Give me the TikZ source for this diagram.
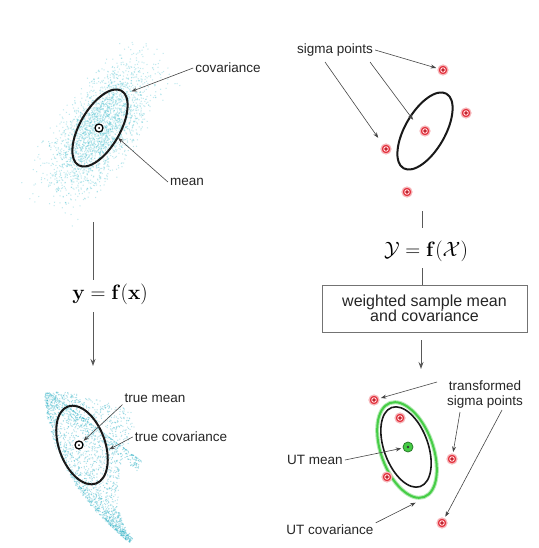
\documentclass[tikz,border=0pt]{standalone}
\usepackage[no-math]{fontspec}
\setmainfont{Liberation Sans}
\usetikzlibrary{arrows.meta,calc}
\definecolor{cloud}{RGB}{80,195,210}
\definecolor{cloudb}{RGB}{50,180,200}
\definecolor{sigred}{RGB}{228,50,62}
\definecolor{utgreen}{RGB}{70,205,70}
\definecolor{conngray}{RGB}{70,70,70}
\begin{document}
\begin{tikzpicture}[x=1pt,y=-1pt,
  lbl/.style={font=\fontsize{13.5}{15}\selectfont, text=black!85, inner sep=2pt},
  conn/.style={draw=conngray, line width=0.6pt, -{Stealth[length=5.5pt,width=4pt]}, shorten >=1.5pt},
  flow/.style={draw=black!65, line width=1pt},
  flowarr/.style={flow, -{Stealth[length=7pt,width=5pt]}},
  ell/.style={draw=black!90, line width=2pt},
  meanmk/.style={circle, draw=black, line width=1.3pt, fill=white, minimum size=8pt, inner sep=0pt,
    path picture={\fill[black] (path picture bounding box.center) circle (1pt);}},
  utm/.style={circle, fill=utgreen, draw=utgreen!60!black, line width=0.8pt, minimum size=10pt, inner sep=0pt,
    path picture={\fill[black!80] (path picture bounding box.center) circle (1.3pt);}},
  sig/.style={circle, fill=sigred, draw=sigred!35, line width=1.2pt, minimum size=10pt, inner sep=0pt,
    path picture={\draw[white, line width=0.7pt] (path picture bounding box.center) circle (2.3pt);
      \fill[sigred!60!black] (path picture bounding box.center) circle (0.8pt);}},
  wbox/.style={draw=black!55, line width=0.8pt, minimum width=205pt, minimum height=47pt, align=center,
    font=\fontsize{16}{15.5}\selectfont, text=black!85}
]
\fill[white] (0,0) rectangle (538,548);
\path[use as bounding box] (0,0) rectangle (538,548);

% ---------- top-left Gaussian cloud ----------
\pgfmathsetseed{7}
\begin{scope}[shift={(100,128)}, rotate=57]
\foreach \i in {1,...,2600}{
  \pgfmathsetmacro\u{36*(rand+rand+rand)}
  \pgfmathsetmacro\v{16*(rand+rand+rand)}
  \fill[cloud, opacity=0.35] (\u,\v) circle (0.75pt);
}
\end{scope}

% ---------- bottom-left transformed cloud ----------
\foreach \i in {1,...,2000}{
  \pgfmathsetmacro\t{rnd}
  \pgfmathsetmacro\s{rnd^1.8}
  \pgfmathsetmacro\px{(1-\t)^2*45+2*(1-\t)*\t*52+\t^2*130}
  \pgfmathsetmacro\py{(1-\t)^2*393+2*(1-\t)*\t*480+\t^2*542}
  \pgfmathsetmacro\dx{0.14*(1-\t)+1.56*\t}
  \pgfmathsetmacro\dy{1.74*(1-\t)+1.24*\t}
  \pgfmathsetmacro\len{veclen(\dx,\dy)}
  \pgfmathsetmacro\w{20*(1-\t)+5*\t+450*\t*(1-\t)^2}
  \pgfmathsetmacro\j{1.2*rand}
  \fill[cloudb, opacity=0.4] ({\px+(\s*\w+\j)*\dy/\len},{\py-(\s*\w+\j)*\dx/\len}) circle (0.65pt);
}
% upper-right edge band of the transformed cloud
\foreach \i in {1,...,350}{
  \pgfmathsetmacro\t{rnd}
  \pgfmathsetmacro\s{rnd^2}
  \fill[cloudb, opacity=0.45] ({48+95*\t-4*\s},{392+70*\t+10*\s}) circle (0.65pt);
}

% ---------- top-left: prior ----------
\draw[ell, rotate around={60:(100,128)}] (100,128) ellipse [x radius=43pt, y radius=20pt];
\node[meanmk] (m1) at (99,128) {};
\node[lbl] (tcov) at (228,68) {covariance};
\coordinate (tcovE) at (130,92);
\draw[conn] (tcov.west) -- (tcovE);
\node[lbl] (tmean) at (187,182) {mean};
\coordinate (tmeanE) at (117,137);
\draw[conn] (tmean.west) -- (tmeanE);

% ---------- left flow ----------
\coordinate (la) at (93,222);
\coordinate (lb) at (93,280);
\node (fx) at (110,294) {\fontsize{20}{24}\selectfont$\mathbf{y}=\mathbf{f}(\mathbf{x})$};
\coordinate (lc) at (93,312);
\coordinate (ld) at (93,366);
\draw[flow] (la) -- (lb);
\draw[flowarr] (lc) -- (ld);

% ---------- top-right: sigma points ----------
\draw[ell, rotate around={60:(425,131)}] (425,131) ellipse [x radius=43pt, y radius=20pt];
\node[sig] (s1) at (443,70) {};
\node[sig] (s2) at (466,113) {};
\node[sig] (s3) at (425,131) {};
\node[sig] (s4) at (386,149) {};
\node[sig] (s5) at (407,192) {};
\node[lbl] (sigtxt) at (335,50) {sigma points};
\draw[conn] (sigtxt.east) -- (s1);
\coordinate (a2) at (325,62);
\draw[conn, shorten >=8pt] (a2) -- (s4);
\coordinate (a3) at (370,62);
\coordinate (a3e) at (414,121);
\draw[conn] (a3) -- (a3e);

% ---------- right flow ----------
\coordinate (ra) at (422,211);
\coordinate (rb) at (422,228);
\draw[flow] (ra) -- (rb);
\node (Yf) at (426,251) {\fontsize{21}{24}\selectfont$\mathcal{Y}=\mathbf{f}(\mathcal{X})$};
\coordinate (rc) at (422,268);
\node[wbox] (wb) at (424.5,308.5) {weighted sample mean\\and covariance};
\draw[flow] (rc) -- (rc |- wb.north);
\coordinate (rd0) at (421,340);
\coordinate (rd) at (421,369);
\draw[flowarr] (rd0) -- (rd);

% ---------- bottom-left: true transformed ----------
\draw[ell, rotate around={-70:(82,445)}] (82,445) ellipse [x radius=41pt, y radius=23pt];
\node[meanmk] (m2) at (79,445) {};
\node[lbl] (ttm) at (155,398) {true mean};
\draw[conn] (ttm.south west) -- (m2);
\node[lbl] (ttc) at (181,437) {true covariance};
\coordinate (ttcE) at (108,450);
\draw[conn] (ttc.west) -- (ttcE);

% ---------- bottom-right: UT ----------
\draw[draw=utgreen!40, line width=4pt, rotate around={-70:(407,450)}] (407,450) ellipse [x radius=50pt, y radius=26pt];
\draw[draw=utgreen, line width=2pt, rotate around={-70:(407,450)}] (407,450) ellipse [x radius=50pt, y radius=26pt];
\draw[ell, line width=1.6pt, rotate around={-70:(406,447)}] (406,447) ellipse [x radius=42pt, y radius=22pt];
\node[utm] (um) at (408,447) {};
\node[sig] (t1) at (374,400) {};
\node[sig] (t2) at (400,418) {};
\node[sig] (t3) at (452,459) {};
\node[sig] (t4) at (387,477) {};
\node[sig] (t5) at (442,523) {};
\node[lbl, align=center] (ttxt) at (485,395) {transformed\\sigma points};
\coordinate (b1) at (437,382);
\draw[conn] (b1) -- (t1);
\coordinate (b2) at (460,412);
\draw[conn] (b2) -- (t3);
\coordinate (b3) at (502,410);
\draw[conn] (b3) -- (t5);
\node[lbl] (utmtxt) at (315,460) {UT mean};
\draw[conn] (utmtxt.east) -- (um);
\node[lbl] (utctxt) at (330,530) {UT covariance};
\coordinate (utcE) at (417,502);
\draw[conn] (utctxt.north east) -- (utcE);
\end{tikzpicture}
\end{document}
